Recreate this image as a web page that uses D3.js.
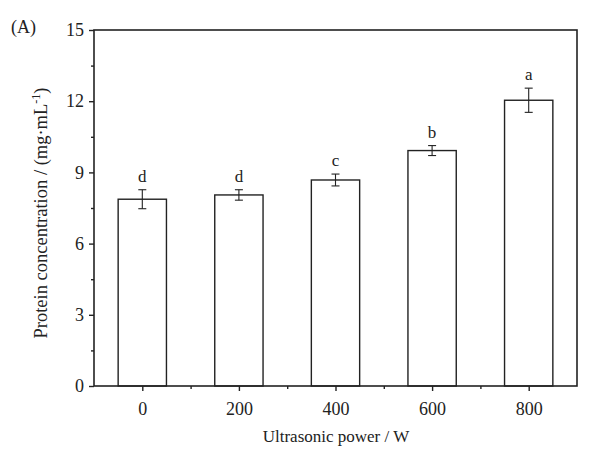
<!DOCTYPE html>
<html><head><meta charset="utf-8">
<script src="https://cdn.jsdelivr.net/npm/d3@7"></script>
<style>body{margin:0;background:#fff}svg{display:block}</style>
</head><body>
<script>
const categories = [0, 200, 400, 600, 800];
const values = [7.87, 8.05, 8.68, 9.92, 12.04];
const errors = [0.40, 0.22, 0.25, 0.21, 0.51];
const letters = ["d", "d", "c", "b", "a"];
const yTicks = [0, 3, 6, 9, 12, 15];
const yMinor = [1.5, 4.5, 7.5, 10.5, 13.5];
const xTicks = [0, 200, 400, 600, 800];
const xMinor = [100, 300, 500, 700];

const W = 589, H = 450;
const m = {l: 94, r: 577, t: 30, b: 386};
const font = "'Liberation Serif','Times New Roman',serif";
const ink = "#222";

const svg = d3.select("body").append("svg").attr("width", W).attr("height", H);
svg.append("rect").attr("width", W).attr("height", H).attr("fill", "#fff");

const x = d3.scaleLinear().domain([-100, 900]).range([m.l, m.r]);
const y = d3.scaleLinear().domain([0, 15]).range([m.b, m.t]);

// bars
const g = svg.append("g");
categories.forEach((c, i) => {
  g.append("rect")
    .attr("x", x(c - 50)).attr("y", y(values[i]))
    .attr("width", x(c + 50) - x(c - 50)).attr("height", y(0) - y(values[i]))
    .attr("fill", "#fff").attr("stroke", ink).attr("stroke-width", 1.4);
  const cx = x(c), hi = y(values[i] + errors[i]), lo = y(values[i] - errors[i]);
  g.append("line").attr("x1", cx).attr("x2", cx).attr("y1", hi).attr("y2", lo)
    .attr("stroke", ink).attr("stroke-width", 1.1);
  [hi, lo].forEach(yy => g.append("line").attr("x1", cx - 4).attr("x2", cx + 4)
    .attr("y1", yy).attr("y2", yy).attr("stroke", ink).attr("stroke-width", 1.1));
  g.append("text").attr("x", cx).attr("y", hi - 8).attr("text-anchor", "middle")
    .attr("font-family", font).attr("font-size", 17).attr("fill", ink).text(letters[i]);
});

// axes
const yAxis = d3.axisLeft(y).tickValues(yTicks).tickSize(5).tickSizeOuter(0).tickPadding(5);
const yAx = svg.append("g").attr("transform", `translate(${m.l},0)`).call(yAxis);
const xAxis = d3.axisBottom(x).tickValues(xTicks).tickSize(5).tickSizeOuter(0).tickPadding(11);
const xAx = svg.append("g").attr("transform", `translate(0,${m.b})`).call(xAxis);
const yMin = svg.append("g").attr("transform", `translate(${m.l},0)`)
  .call(d3.axisLeft(y).tickValues(yMinor).tickSize(3).tickFormat(""));
const xMin = svg.append("g").attr("transform", `translate(0,${m.b})`)
  .call(d3.axisBottom(x).tickValues(xMinor).tickSize(3).tickFormat(""));
[yAx, xAx, yMin, xMin].forEach(a => {
  a.select(".domain").remove();
  a.selectAll("line").attr("stroke", ink).attr("stroke-width", 1.4);
  a.selectAll("text").attr("font-family", font).attr("font-size", 18).attr("fill", ink);
});

// frame
svg.append("rect").attr("x", m.l).attr("y", m.t).attr("width", m.r - m.l).attr("height", m.b - m.t)
  .attr("fill", "none").attr("stroke", ink).attr("stroke-width", 1.6);

// titles
svg.append("text").attr("x", 336).attr("y", 442).attr("text-anchor", "middle")
  .attr("font-family", font).attr("font-size", 17).attr("fill", ink).text("Ultrasonic power / W");
const yt = svg.append("text").attr("transform", `translate(47,213) rotate(-90)`)
  .attr("text-anchor", "middle").attr("font-family", font).attr("font-size", 18.5).attr("fill", ink);
yt.append("tspan").text("Protein concentration / (mg·mL");
yt.append("tspan").attr("dy", -7).attr("font-size", 12).text("-1");
yt.append("tspan").attr("dy", 7).text(")");
svg.append("text").attr("x", 11).attr("y", 33).attr("font-family", font).attr("font-size", 18)
  .attr("fill", ink).text("(A)");
</script>
</body></html>
